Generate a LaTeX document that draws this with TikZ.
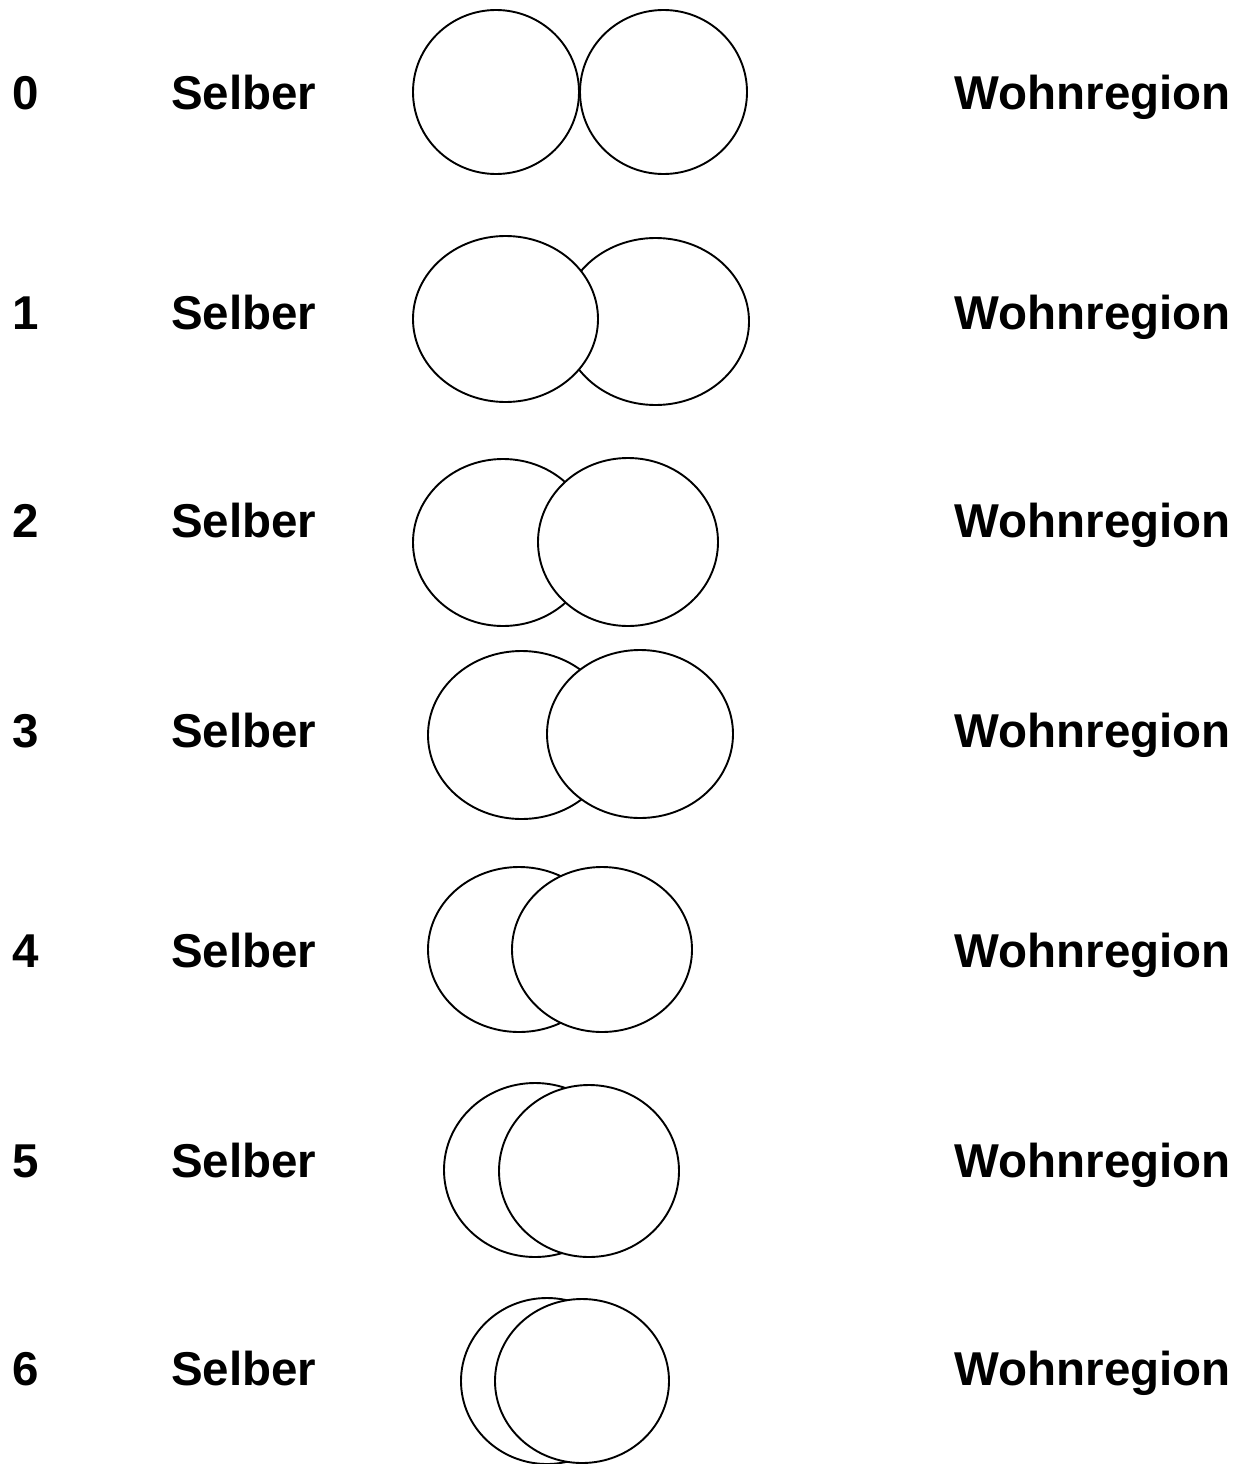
\documentclass[tikz,border=0pt]{standalone}
\usepackage{fontspec}
\setmainfont{Liberation Sans}
\begin{document}
\begin{tikzpicture}[x=1pt,y=-1pt,
  ring/.style={draw=black,fill=white,line width=1.9pt},
  lbl/.style={font=\fontsize{47.5}{50}\selectfont\bfseries,inner sep=0pt,text=black},
  num/.style={lbl,anchor=base},
  selb/.style={lbl,anchor=base west},
  wohn/.style={lbl,anchor=base east}]
\useasboundingbox[fill=white] (0,0) rectangle (1244,1464);
% row 0
\draw[ring] (496,92) ellipse [x radius=83,y radius=82];
\draw[ring] (663.5,92) ellipse [x radius=83.5,y radius=82];
% row 1 (left on top)
\draw[ring] (655.5,321.5) ellipse [x radius=93.5,y radius=83.5];
\draw[ring] (505.5,319) ellipse [x radius=92.5,y radius=83];
% row 2
\draw[ring] (503,542.5) ellipse [x radius=90,y radius=83.5];
\draw[ring] (628,542) ellipse [x radius=90,y radius=84];
% row 3
\draw[ring] (521.5,735) ellipse [x radius=93.5,y radius=84];
\draw[ring] (640,734) ellipse [x radius=93,y radius=84];
% row 4
\draw[ring] (519,949.5) ellipse [x radius=91,y radius=82.5];
\draw[ring] (602,949.5) ellipse [x radius=90,y radius=82.5];
% row 5
\draw[ring] (535,1170) ellipse [x radius=91,y radius=87];
\draw[ring] (589,1171) ellipse [x radius=90,y radius=86];
% row 6
\draw[ring] (547,1381) ellipse [x radius=86,y radius=83];
\draw[ring] (582,1381) ellipse [x radius=87,y radius=82];
% labels
\foreach \i/\yy in {0/109,1/329,2/537,3/747,4/967,5/1177,6/1385}{
  \node[num]  (n\i) at (26,\yy) {\i};
  \node[selb] (s\i) at (171,\yy) {Selber};
  \node[wohn] (w\i) at (1231,\yy) {Wohnregion};
}
\end{tikzpicture}
\end{document}
